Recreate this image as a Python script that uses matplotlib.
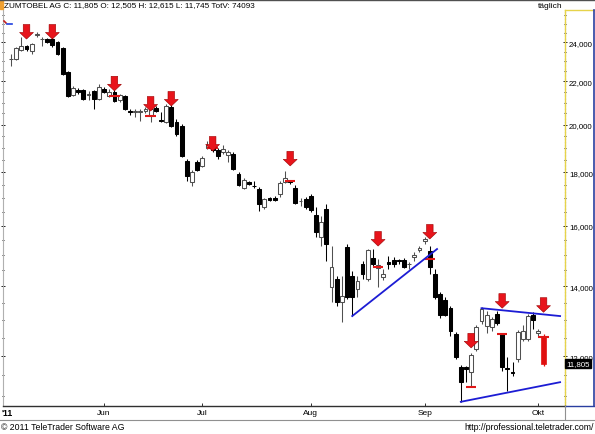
import numpy as np
import pandas as pd
import matplotlib
matplotlib.use('Agg')
import matplotlib.pyplot as plt
from matplotlib.lines import Line2D
from matplotlib.patches import Rectangle
from matplotlib.ticker import FixedLocator, NullFormatter

plt.rcParams['font.family'] = ['Liberation Sans', 'DejaVu Sans']

# trading days (Wiener Börse, closed on these)
holidays = ['2011-06-02', '2011-06-13', '2011-06-23', '2011-08-15']
dates = pd.bdate_range('2011-05-06', '2011-10-04')
dates = dates[~dates.isin(pd.to_datetime(holidays))]

opens = [23.10, 23.12, 23.58, 23.79, 23.53, 24.38, 24.16, 24.16, 24.16, 24.00,
         23.68, 22.47, 21.36, 21.59, 21.59, 21.36, 21.55, 21.17, 21.64, 21.31,
         21.50, 21.12, 21.31, 20.61, 20.57, 20.59, 20.61, 20.39, 20.75, 20.21,
         20.11, 20.79, 20.11, 19.94, 18.46, 17.62, 18.42, 18.26, 18.99, 19.16,
         18.91, 18.83, 18.71, 18.75, 17.94, 17.39, 17.62, 17.47, 17.35, 16.67,
         17.00, 17.02, 17.16, 17.62, 17.66, 17.39, 16.89, 16.97, 17.08, 16.38,
         15.61, 16.60, 13.98, 14.23, 13.52, 15.27, 14.33, 13.92, 14.70, 14.23,
         14.90, 14.58, 14.29, 14.77, 14.83, 14.84, 14.84, 14.70, 14.93, 15.18,
         15.47, 15.14, 14.38, 13.77, 13.58, 13.34, 12.60, 11.71, 11.71, 11.58,
         12.19, 12.96, 12.82, 12.80, 13.17, 12.60, 11.69, 11.58, 11.92, 12.46,
         12.46, 13.14, 12.63, 12.505]
highs = [23.40, 23.75, 24.27, 23.84, 23.95, 24.54, 24.27, 24.21, 24.27, 24.05,
         23.74, 22.50, 21.78, 21.69, 21.64, 21.55, 21.59, 21.88, 21.74, 21.64,
         21.59, 21.41, 21.36, 20.70, 20.70, 20.70, 20.79, 20.89, 20.84, 20.57,
         20.94, 20.89, 20.25, 20.02, 18.54, 18.10, 18.50, 18.67, 19.29, 19.25,
         18.99, 19.12, 18.91, 18.83, 18.02, 17.78, 17.66, 17.66, 17.43, 17.00,
         17.05, 17.08, 17.66, 18.06, 17.70, 17.51, 17.00, 17.04, 17.16, 16.67,
         16.35, 16.78, 15.30, 14.33, 14.33, 15.37, 14.48, 14.33, 14.80, 15.20,
         15.20, 14.87, 14.54, 14.97, 14.93, 14.87, 14.90, 14.77, 15.10, 15.30,
         15.61, 15.30, 14.54, 13.83, 13.67, 13.40, 12.66, 11.76, 11.74, 12.08,
         12.85, 13.37, 13.25, 13.08, 13.25, 12.62, 11.97, 11.84, 12.71, 12.85,
         13.17, 13.22, 12.74, 12.615]
lows = [22.75, 23.07, 23.53, 23.53, 23.37, 24.27, 23.79, 23.95, 23.74, 23.32,
        22.30, 21.27, 21.31, 21.41, 21.12, 21.12, 20.70, 21.12, 21.45, 21.27,
        21.03, 21.03, 20.66, 20.43, 20.34, 20.16, 20.52, 20.11, 20.57, 20.11,
        20.07, 19.90, 19.51, 18.62, 17.66, 17.47, 18.06, 18.22, 18.95, 18.83,
        18.54, 18.75, 18.42, 18.10, 17.47, 17.35, 17.51, 17.39, 16.53, 16.60,
        16.90, 16.90, 17.04, 17.58, 17.55, 16.78, 16.71, 16.60, 16.49, 15.61,
        15.30, 14.80, 13.52, 13.40, 12.93, 13.61, 13.11, 13.67, 14.23, 14.17,
        14.61, 13.98, 14.20, 14.54, 14.61, 14.70, 14.58, 14.54, 14.80, 15.10,
        15.37, 14.38, 13.61, 13.05, 13.11, 12.55, 11.92, 10.85, 11.33, 11.21,
        12.14, 12.88, 12.63, 12.69, 12.85, 11.61, 11.10, 11.48, 11.84, 12.41,
        12.41, 12.74, 12.55, 11.745]
closes = [23.14, 23.68, 23.79, 23.63, 23.89, 24.42, 24.18, 24.00, 23.84, 23.37,
          22.37, 21.31, 21.69, 21.50, 21.17, 21.40, 21.17, 21.74, 21.50, 21.50,
          21.08, 21.36, 20.70, 20.57, 20.61, 20.60, 20.70, 20.70, 20.61, 20.16,
          20.84, 19.94, 19.59, 18.67, 17.86, 18.02, 18.10, 18.58, 19.12, 18.91,
          18.67, 18.95, 18.83, 18.14, 17.51, 17.70, 17.55, 17.45, 16.78, 16.97,
          16.93, 16.95, 17.58, 17.78, 17.62, 16.82, 16.91, 16.67, 16.56, 15.78,
          16.13, 15.37, 14.61, 13.52, 13.71, 13.67, 13.67, 14.17, 14.38, 15.17,
          14.70, 14.67, 14.38, 14.70, 14.70, 14.80, 14.61, 14.72, 15.00, 15.22,
          15.54, 14.61, 13.67, 13.14, 13.14, 12.69, 11.97, 11.33, 11.66, 12.02,
          12.80, 13.31, 13.14, 13.02, 12.91, 11.71, 11.66, 11.56, 12.66, 12.69,
          13.11, 12.99, 12.69, 11.805]

# signal arrows: candle index and arrow tip price
arrow_idx = [3, 8, 20, 27, 31, 39, 54, 71, 81, 89, 95, 103]
arrow_tip = [24.16, 24.16, 21.55, 20.61, 20.84, 18.87, 18.26, 15.30, 15.54, 12.22, 13.34, 13.22]

# red level marks
mark_idx = [20, 27, 39, 54, 71, 81, 89, 95, 103]
mark_price = [21.31, 20.39, 18.99, 17.66, 14.61, 14.87, 11.21, 12.60, 12.505]

# blue trend lines (index, price)
trend_lines = [
    ([66, 82.4], [13.11, 15.20]),
    ([91, 106.2], [13.34, 13.11]),
    ([87, 106.2], [10.85, 11.33]),
]

month_names = {6: 'Jun', 7: 'Jul', 8: 'Aug', 9: 'Sep', 10: 'Okt'}
yticks = [12, 14, 16, 18, 20, 22, 24]

W, H = 595, 435
fig = plt.figure(figsize=(W / 100, H / 100), dpi=100)
ax = fig.add_axes([3 / W, 1 - 407 / H, 562 / W, 396 / H])
ax.set_yscale('log')
ax.set_xlim(-1.55, 107.15)
ax.set_ylim(10.75, 25.76)

o = np.array(opens)
c = np.array(closes)
hi = np.array(highs)
lo = np.array(lows)
x = np.arange(len(o))
up = c >= o
n = len(o)

# candles
for i in range(n - 1):
    col = '#505050' if up[i] else 'black'
    ax.vlines(x[i], lo[i], hi[i], color=col, lw=0.75, zorder=2)
    b0, b1 = min(o[i], c[i]), max(o[i], c[i])
    ax.bar(x[i], b1 - b0, bottom=b0, width=0.74,
           color='white' if up[i] else 'black', edgecolor=col, lw=0.75, zorder=3)
# last day in red
ax.vlines(x[-1], lo[-1], hi[-1], color='#e01010', lw=0.9, zorder=2)
ax.bar(x[-1], o[-1] - c[-1], bottom=c[-1], width=0.8, color='#e01010',
       edgecolor='#e01010', lw=0.5, zorder=3)

# red level marks
ax.hlines(mark_price, np.array(mark_idx) - 1.0, np.array(mark_idx) + 1.0,
          color='#e01818', lw=1.5, zorder=4)

# trend lines
for xs, ys in trend_lines:
    ax.plot(xs, ys, color='#1c1cd4', lw=1.3, zorder=5)

# arrows
for ai, at in zip(arrow_idx, arrow_tip):
    ax.annotate('', xy=(ai, at), xytext=(0, 10.5), textcoords='offset points',
                arrowprops=dict(arrowstyle='simple,head_length=0.5,head_width=1.05,tail_width=0.5',
                                fc='#e8141b', ec='#9a0000', lw=0.4,
                                mutation_scale=9.5, shrinkA=0, shrinkB=0), zorder=6)

# axes styling
ax.spines['top'].set_visible(False)
ax.spines['right'].set_color('#e6d34a')
ax.spines['right'].set_linewidth(1.0)
ax.spines['left'].set_color('#b0b0b0')
ax.spines['left'].set_linewidth(0.8)
ax.spines['bottom'].set_color('#303030')
ax.spines['bottom'].set_linewidth(1.0)
# dotted look of the price axis
ax.axvline(ax.get_xlim()[1], color='#606060', lw=0.8, ls=(0, (1, 2)), zorder=1, clip_on=False)

ax.yaxis.set_major_locator(FixedLocator(yticks))
ax.yaxis.set_minor_locator(FixedLocator(np.arange(11, 25.6, 0.5)))
ax.yaxis.set_minor_formatter(NullFormatter())
ax.set_yticklabels([f'{v},000' for v in yticks])
ax.tick_params(axis='y', which='both', left=True, right=True, labelleft=False,
               labelright=True, direction='inout', color='#202020', width=0.7,
               labelsize=5.7, pad=1.5)
ax.tick_params(axis='y', which='major', length=3)
ax.tick_params(axis='y', which='minor', length=2)

month_pos = [i for i in range(1, n) if dates[i].month != dates[i - 1].month]
ax.xaxis.set_major_locator(FixedLocator(month_pos))
ax.set_xticklabels([month_names[dates[i].month] for i in month_pos])
ax.tick_params(axis='x', direction='in', length=2, width=0.7, color='#303030',
               labelsize=6, pad=2)

# last price box
ax.text(1.003, c[-1], f'{c[-1]:.3f}'.replace('.', ','), transform=ax.get_yaxis_transform(),
        color='white', fontsize=5.7, va='center', ha='left',
        bbox=dict(boxstyle='square,pad=0.15', fc='black', ec='black'), zorder=10, clip_on=False)

# frame lines of the chart window
def fline(x0, y0, x1, y1, color, lw=1.0):
    fig.lines.append(Line2D([x0 / W, x1 / W], [1 - y0 / H, 1 - y1 / H],
                            transform=fig.transFigure, color=color, lw=lw))

fline(0, 0.5, W, 0.5, '#505050', 1.0)
fline(565, 11, 594, 11, '#e6d34a', 1.0)
fline(593.5, 11, 593.5, 407, '#2a3fa0', 1.2)
fline(565, 407, 594, 407, '#2a3fa0', 1.0)
fline(565, 407, 565, 420, '#909090', 0.8)
fline(0, 420.5, W, 420.5, '#909090', 0.8)
fig.patches.append(Rectangle((0, 1 - 10 / H), 3 / W, 10 / H, transform=fig.transFigure,
                             color='#f0a030'))
# small marker icon in the top-left corner
fline(4, 22, 6, 24, '#c02020', 1.2)
fline(7, 24.5, 12, 24.5, '#2040e0', 1.2)

fig.text(4 / W, 1 - 6 / H, 'ZUMTOBEL AG C: 11,805 O: 12,505 H: 12,615 L: 11,745 TotV: 74093',
         fontsize=5.9, va='center', ha='left')
fig.text(563 / W, 1 - 6 / H, 'täglich', fontsize=6, va='center', ha='right')
fig.text(1 / W, 1 - 414 / H, "'11", fontsize=6.3, fontweight='bold', va='center', ha='left')
fig.text(1 / W, 1 - 428 / H, '© 2011 TeleTrader Software AG', fontsize=6.3, va='center', ha='left')
fig.text(594 / W, 1 - 428 / H, 'http://professional.teletrader.com/', fontsize=6.3,
         va='center', ha='right')

fig.savefig('out.png', dpi=100)
